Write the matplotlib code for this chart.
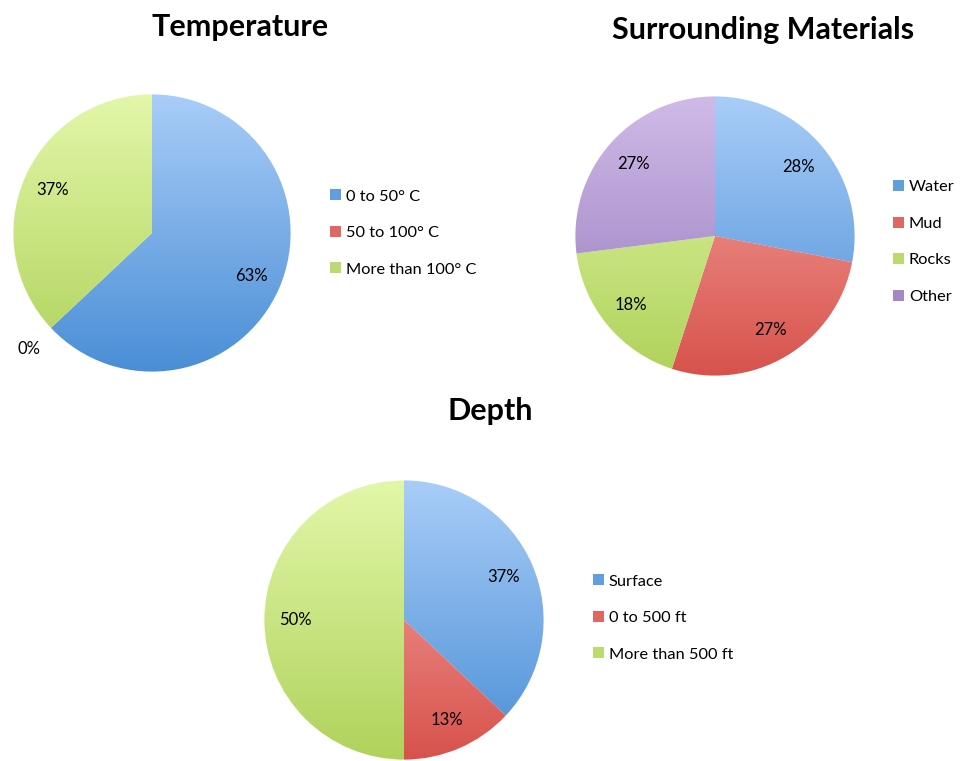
import matplotlib.pyplot as plt
import numpy as np
from matplotlib.colors import LinearSegmentedColormap

plt.rcParams['font.family'] = ['Lato', 'DejaVu Sans']

tempLabels = ['0 to 50° C', '50 to 100° C', 'More than 100° C']
tempValues = [63, 0, 37]

matLabels = ['Water', 'Mud', 'Rocks', 'Other']
matValues = [28, 27, 18, 27]

depthLabels = ['Surface', '0 to 500 ft', 'More than 500 ft']
depthValues = [37, 13, 50]

# top / bottom colours of the gradient fill
blue = ('#a9cdf8', '#4a8ed6')
red = ('#f7aba8', '#d8524c')
green = ('#e2f7a9', '#b0d25b')
purple = ('#cfbbe8', '#9677ba')

W = 966
H = 761


def makeAxes(cx, cy, r):
    return fig.add_axes([(cx - r) / W, (H - cy - r) / H, 2 * r / W, 2 * r / H])


def drawPie(ax, values, labels, colors, title, titleX, titleY, legX, legY):
    wedges, _ = ax.pie(values, startangle=90, counterclock=False, radius=1,
                       colors=[c[1] for c in colors],
                       wedgeprops=dict(linewidth=0))
    grad = np.linspace(0, 1, 256).reshape(-1, 1)
    for w, c in zip(wedges, colors):
        cmap = LinearSegmentedColormap.from_list('g', [c[0], c[1]])
        w.set_facecolor('none')
        im = ax.imshow(grad, extent=(-1, 1, -1, 1), origin='upper', cmap=cmap,
                       aspect='auto', zorder=1)
        im.set_clip_path(w)
        # percentage label
        mid = np.deg2rad((w.theta1 + w.theta2) / 2)
        v = values[wedges.index(w)]
        dist = 0.78 if v > 0 else 1.22
        ax.text(dist * np.cos(mid), dist * np.sin(mid), '%d%%' % v,
                ha='center', va='center', fontsize=12, color='black', zorder=3)
    ax.set_xlim(-1.01, 1.01)
    ax.set_ylim(-1.01, 1.01)
    ax.axis('off')
    fig.text(titleX / W, 1 - titleY / H, title, ha='center', va='center',
             fontsize=22, fontweight='bold')
    handles = [plt.Rectangle((0, 0), 1, 1, facecolor=LinearSegmentedColormap.from_list('g', [c[0], c[1]])(0.75))
               for c in colors]
    ax.legend(handles, labels, loc='center left',
              bbox_to_anchor=(legX / W, 1 - legY / H), bbox_transform=fig.transFigure,
              frameon=False, fontsize=11.8, handlelength=0.65, handleheight=0.65,
              handletextpad=0.3, labelspacing=1.36, borderpad=0)


fig = plt.figure(figsize=(9.66, 7.61), dpi=100)

ax1 = makeAxes(152, 233, 140)
drawPie(ax1, tempValues, tempLabels, [blue, red, green], 'Temperature', 240, 27, 322, 233)

ax2 = makeAxes(715, 236, 141)
drawPie(ax2, matValues, matLabels, [blue, red, green, purple], 'Surrounding Materials', 763, 30, 885, 242)

ax3 = makeAxes(404, 620, 141)
drawPie(ax3, depthValues, depthLabels, [blue, red, green], 'Depth', 490, 411, 585, 618)

fig.savefig('out.png', dpi=100)
